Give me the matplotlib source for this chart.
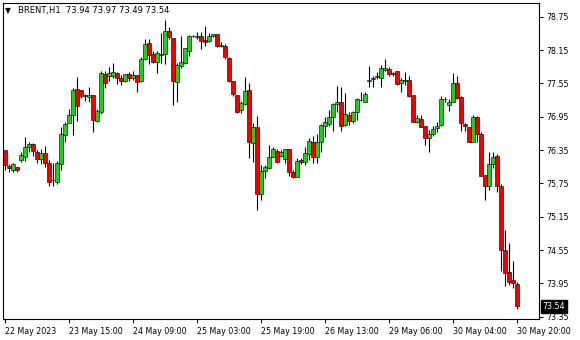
import matplotlib
matplotlib.use("Agg")
import matplotlib.pyplot as plt
import matplotlib.transforms as mtransforms
from matplotlib.patches import Rectangle
import numpy as np

# BRENT H1 bars (oldest first)
opens = [76.35, 76.07, 76.00, 76.05, 76.17, 76.23, 76.40, 76.46, 76.32, 76.18,
         76.29, 76.11, 75.81, 75.78, 76.09, 76.62, 76.83, 76.98, 77.45, 77.43,
         77.32, 77.30, 77.35, 76.88, 77.03, 77.72, 77.68, 77.68, 77.74, 77.65,
         77.59, 77.72, 77.64, 77.70, 77.59, 77.99, 78.28, 78.08, 77.93, 78.07,
         78.08, 78.50, 78.37, 77.57, 77.86, 77.92, 78.14, 78.40, 78.39, 78.40,
         78.34, 78.31, 78.40, 78.43, 78.23, 78.23, 78.00, 77.59, 77.35, 77.07,
         77.18, 77.43, 76.47, 76.76, 75.56, 75.98, 76.03, 76.23, 76.34, 76.25,
         76.19, 76.37, 75.95, 75.87, 76.17, 76.13, 76.28, 76.49, 76.22, 76.49,
         76.78, 76.82, 76.94, 77.18, 77.21, 76.80, 76.98, 76.88, 77.03, 77.26,
         77.22, 77.59, 77.63, 77.66, 77.65, 77.80, 77.81, 77.72, 77.77, 77.55,
         77.60, 77.61, 77.34, 76.86, 76.91, 76.78, 76.56, 76.64, 76.74, 76.80,
         77.26, 77.16, 77.22, 77.56, 77.31, 76.82, 76.76, 76.50, 76.95, 76.64,
         75.90, 75.71, 76.10, 76.24, 75.71, 74.55, 74.16, 74.01, 73.94]
highs = [76.36, 76.10, 76.12, 76.05, 76.32, 76.59, 76.50, 76.47, 76.35, 76.37,
         76.43, 76.17, 76.11, 76.16, 76.76, 76.86, 77.09, 77.47, 77.66, 77.43,
         77.36, 77.48, 77.35, 77.09, 77.77, 77.77, 77.84, 77.91, 77.75, 77.71,
         77.72, 77.76, 77.77, 77.70, 78.02, 78.35, 78.35, 78.13, 78.13, 78.46,
         78.70, 78.56, 78.37, 77.91, 78.41, 78.19, 78.43, 78.43, 78.47, 78.47,
         78.58, 78.46, 78.44, 78.44, 78.29, 78.26, 78.02, 77.60, 77.35, 77.24,
         77.66, 77.56, 76.83, 76.97, 76.08, 76.08, 76.44, 76.41, 76.37, 76.35,
         76.37, 76.37, 75.99, 76.21, 76.20, 76.41, 76.56, 76.61, 76.64, 76.82,
         76.94, 77.07, 77.19, 77.51, 77.48, 77.37, 77.03, 77.06, 77.28, 77.40,
         77.39, 77.87, 77.69, 77.75, 77.89, 77.99, 77.84, 77.75, 77.78, 77.65,
         77.75, 77.68, 77.34, 76.98, 76.99, 76.78, 76.71, 76.79, 76.85, 77.33,
         77.31, 77.27, 77.74, 77.68, 77.33, 76.84, 76.77, 76.98, 76.97, 76.68,
         75.91, 76.31, 76.31, 76.28, 75.74, 74.91, 74.67, 74.35, 73.97]
lows = [76.00, 75.95, 75.96, 75.95, 76.13, 76.16, 76.31, 76.25, 76.11, 76.10,
        76.04, 75.71, 75.71, 75.74, 75.99, 76.50, 76.83, 76.62, 76.88, 77.29,
        77.23, 77.21, 76.67, 76.86, 77.00, 77.47, 77.60, 77.65, 77.54, 77.53,
        77.57, 77.59, 77.62, 77.39, 77.57, 77.98, 77.90, 77.92, 77.73, 77.91,
        77.90, 78.35, 77.16, 77.21, 77.83, 77.90, 78.05, 78.39, 78.35, 78.17,
        78.23, 78.29, 78.38, 78.21, 78.21, 77.99, 77.57, 77.32, 77.01, 77.01,
        77.16, 76.20, 76.14, 75.27, 75.45, 75.85, 76.01, 76.22, 76.11, 76.22,
        76.11, 75.89, 75.84, 75.86, 76.10, 76.09, 76.17, 76.11, 76.12, 76.32,
        76.59, 76.79, 76.70, 77.04, 76.70, 76.79, 76.80, 76.83, 76.90, 77.24,
        77.21, 77.49, 77.49, 77.63, 77.48, 77.78, 77.69, 77.69, 77.52, 77.40,
        77.53, 77.31, 76.85, 76.83, 76.77, 76.45, 76.32, 76.61, 76.67, 76.79,
        77.21, 77.06, 77.21, 77.27, 76.70, 76.70, 76.50, 76.50, 76.49, 75.89,
        75.45, 75.63, 76.02, 75.60, 74.18, 73.91, 73.92, 73.86, 73.49]
closes = [76.08, 76.02, 76.10, 75.99, 76.26, 76.40, 76.46, 76.34, 76.19, 76.30,
          76.11, 75.78, 75.82, 76.11, 76.64, 76.82, 76.98, 77.44, 77.15, 77.33,
          77.34, 77.35, 76.89, 77.06, 77.74, 77.55, 77.73, 77.75, 77.64, 77.59,
          77.72, 77.64, 77.70, 77.57, 77.98, 78.26, 78.06, 77.93, 78.10, 78.08,
          78.49, 78.38, 77.59, 77.88, 77.94, 78.18, 78.41, 78.41, 78.40, 78.31,
          78.29, 78.40, 78.43, 78.22, 78.24, 78.02, 77.59, 77.36, 77.04, 77.19,
          77.41, 76.50, 76.76, 75.56, 75.98, 76.04, 76.22, 76.37, 76.13, 76.31,
          76.37, 75.95, 75.87, 76.15, 76.13, 76.29, 76.51, 76.22, 76.49, 76.80,
          76.85, 76.94, 77.18, 77.21, 76.78, 77.00, 76.88, 77.03, 77.27, 77.25,
          77.36, 77.61, 77.65, 77.69, 77.83, 77.83, 77.72, 77.74, 77.54, 77.61,
          77.61, 77.33, 76.86, 76.92, 76.77, 76.56, 76.64, 76.73, 76.79, 77.27,
          77.27, 77.21, 77.55, 77.28, 76.83, 76.78, 76.50, 76.94, 76.64, 75.89,
          75.71, 76.10, 76.23, 75.71, 74.55, 74.13, 73.97, 73.95, 73.54]

time_labels = ["22 May 2023", "23 May 15:00", "24 May 09:00", "25 May 03:00",
               "25 May 19:00", "26 May 13:00", "29 May 06:00", "30 May 04:00",
               "30 May 20:00"]
label_every = 16
price_ticks = [78.75, 78.15, 77.55, 76.95, 76.35, 75.75, 75.15, 74.55, 73.95, 73.35]
symbol = "BRENT,H1"

BULL = "#22cc22"
BEAR = "#ee0000"
FONT = 5.7
plt.rcParams['font.family'] = ['DejaVu Sans']

W, H = 580, 340
fig = plt.figure(figsize=(W/100, H/100), dpi=100)
# plot frame in pixels: x 2.5..538.5, y 3..319 (from top)
ax = fig.add_axes([2.5/W, (H-319)/H, 536/W, 316/H])

n = len(opens)
x = 0.25 + np.arange(n)
for i in range(n):
  o, h, l, c = opens[i], highs[i], lows[i], closes[i]
  ax.vlines(x[i], l, h, color="black", linewidth=0.8, zorder=2)
  lo, hi = min(o, c), max(o, c)
  col = BULL if c >= o else BEAR
  ax.add_patch(Rectangle((x[i]-0.38, lo), 0.76, hi-lo, facecolor=col,
                         edgecolor="black", linewidth=0.42, zorder=3))

# 4 px per bar
ax.set_xlim(-0.375, 133.625)
ax.set_ylim(73.309, 78.997)

tick_pos = [x[i] for i in range(0, n, label_every)]
ax.set_xticks(tick_pos)
ax.set_xticklabels(time_labels[:len(tick_pos)], fontsize=FONT, ha="left")
ax.tick_params(axis="x", direction="out", length=3, width=0.7, pad=2.5, colors="black")

ax.yaxis.tick_right()
ax.set_yticks(price_ticks)
ax.set_yticklabels(["%.2f" % p for p in price_ticks], fontsize=FONT)
ax.tick_params(axis="y", direction="out", length=3, width=0.7, pad=2.5, colors="black")

for s in ax.spines.values():
  s.set_color("black")
  s.set_linewidth(0.8)

# current price tag
trans = mtransforms.blended_transform_factory(ax.transAxes, ax.transData)
ax.text(1.0075, closes[-1], "%.2f" % closes[-1], transform=trans, fontsize=FONT,
        color="white", va="center", ha="left", clip_on=False, zorder=5,
        bbox=dict(boxstyle="square,pad=0.25", facecolor="black", edgecolor="black"))

# header
fig.text(5/W, 1-11/H, "\u25bc", fontsize=5.5, va="center", ha="left")
fig.text(18/W, 1-11/H, "%s  %.2f %.2f %.2f %.2f" % (symbol, opens[-1], highs[-1], lows[-1], closes[-1]),
         fontsize=FONT+0.3, va="center", ha="left",
         bbox=dict(boxstyle="square,pad=0.1", facecolor="white", edgecolor="none"))

fig.savefig("out.png", dpi=100)
